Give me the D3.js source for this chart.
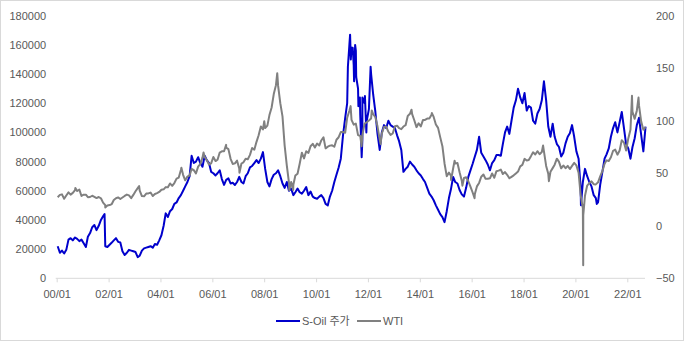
<!DOCTYPE html>
<html><head><meta charset="utf-8">
<script src="https://cdn.jsdelivr.net/npm/d3@7"></script>
<style>
body{margin:0;background:#fff}
svg{display:block}
text{font-family:"Liberation Sans","Noto Sans CJK KR",sans-serif;fill:#595959}
</style>
</head><body><svg id="c" width="684" height="341"></svg>
<script>
// ---- data ----
const soilName = "S-Oil 주가";
const wtiName = "WTI";
const leftTicks = [0,20000,40000,60000,80000,100000,120000,140000,160000,180000];
const rightTicks = [-50,0,50,100,150,200];
const xTickYears = [2000,2002,2004,2006,2008,2010,2012,2014,2016,2018,2020,2022];
const firstMonth = "2000-01", lastMonth = "2022-09";

// S-Oil share price, monthly (Jan 2000 .. Sep 2022)
const soilMonthly = [
 22000,17500,19000,17000,19500,26500,27500,26000,28000,27000,25500,26500,
 24000,21500,28500,31000,35000,36500,33000,36000,40000,42500,22000,21500,
 23000,24500,26000,27500,25000,24500,18500,16000,17500,19500,19000,18500,
 18000,14500,15500,19000,20500,21000,21500,22000,21000,23500,23000,26000,
 29500,36000,44500,42000,46000,47500,51000,52000,55000,57000,60000,63000,
 66000,70000,84000,79000,80000,83000,79000,76500,84000,81000,79000,73000,
 72000,70500,72000,74000,68000,64000,67500,68500,65000,65500,64000,66000,
 69500,66000,65000,70000,72000,76000,77000,79000,81000,79000,82000,86500,
 75000,66000,63000,68000,71000,72000,74000,70000,65000,62000,66000,60000,
 61500,57000,59000,61500,59000,58000,60000,62500,57000,59500,56000,55000,
 54500,56000,57000,55000,51000,50000,56000,60000,66000,71000,76000,82000,
 98000,110000,120000,160000,158000,146000,156000,130000,112000,95000,120000,108000,
 116000,140000,126000,114000,99000,88000,100000,105000,103000,108000,105000,104000,
 103000,98000,94000,88000,73000,75000,76500,80000,78000,76500,74000,72000,
 70500,68000,66000,62000,58000,56000,53500,50000,47000,44000,42000,38500,
 46000,55000,61000,69500,66000,65000,60500,57500,56000,62000,69500,74000,
 78500,83500,88000,97000,86000,83500,81000,78000,74000,79000,81000,84500,
 84500,84000,92000,100000,104000,99000,108000,117000,122000,130000,124000,120000,
 127000,115000,118000,117000,108000,106000,113000,116000,122000,135000,122000,104000,
 97000,106000,97000,92000,90000,83500,86000,92500,97000,99400,105000,97000,
 87000,82000,62000,66000,75000,70000,66000,63000,57000,55000,52000,64000,
 73000,82000,85000,89000,97000,103000,107000,100000,107000,114000,103000,92000,
 89000,82000,90000,96000,105000,110000,98500,87000,104000
];
// S-Oil extra daily extremes
const soilExtraDates = ["2001-11-05","2011-03-25","2011-04-25","2011-05-05","2011-06-01","2011-06-20","2011-07-05","2011-07-20","2011-08-20","2011-09-10","2011-10-05","2011-10-15","2011-11-20","2011-12-10","2012-02-08","2020-03-19","2020-10-28"];
const soilExtraValues = [44000,145000,167000,150000,158000,135000,160000,138000,118000,124000,83000,124000,125000,100000,145000,50000,51000];

// WTI, monthly (Jan 2000 .. Sep 2022)
const wtiMonthly = [
 27.2,29.4,29.9,25.7,28.8,31.8,29.7,31.3,33.9,33.1,34.4,28.4,
 29.6,29.6,27.2,27.4,28.6,27.6,26.4,27.4,26.2,22.0,19.6,19.3,
 19.7,20.7,24.5,26.2,27.0,25.5,26.9,28.4,29.7,28.9,26.3,29.4,
 32.9,35.9,33.5,28.3,28.1,30.7,30.8,31.6,28.3,30.3,31.1,32.2,
 34.3,34.7,36.8,36.7,40.3,38.0,40.7,44.9,45.9,53.1,48.5,43.3,
 46.8,48.0,54.3,53.0,49.8,56.3,58.7,64.9,65.6,62.4,58.3,59.4,
 65.5,61.6,62.9,69.7,70.9,70.9,74.4,73.0,63.8,58.9,59.4,62.0,
 54.5,59.3,60.4,63.9,63.4,67.5,74.1,72.4,79.9,86.2,94.6,91.7,
 93.0,95.4,105.4,112.6,125.4,133.9,133.4,116.7,104.1,76.6,57.3,41.1,
 41.7,39.1,47.9,49.6,59.0,69.6,64.2,71.0,69.4,75.7,78.0,74.5,
 78.3,76.4,81.2,84.3,73.7,75.3,76.3,76.6,75.2,81.9,84.3,89.2,
 89.2,88.6,102.9,109.5,100.9,96.3,97.3,86.3,85.5,86.3,97.2,98.6,
 100.3,102.2,106.2,103.3,94.7,82.3,87.9,94.1,94.5,89.5,86.5,87.9,
 94.8,95.3,92.9,92.0,94.5,95.8,104.6,106.6,106.3,100.5,93.9,97.6,
 94.6,100.8,100.8,102.1,102.2,105.8,103.6,96.5,93.2,84.4,75.8,59.3,
 47.2,50.6,47.8,54.5,59.3,59.8,50.9,42.9,45.5,46.2,42.4,37.2,
 31.7,30.3,37.5,40.8,46.7,48.8,44.7,44.7,45.2,49.8,45.7,52.0,
 52.5,53.5,49.3,51.1,48.5,45.2,46.6,48.0,49.8,51.6,56.6,57.9,
 63.7,62.2,62.7,66.3,70.0,67.9,71.0,68.1,70.2,70.8,57.0,49.5,
 51.4,54.9,58.2,63.9,60.8,54.7,57.4,54.8,57.0,54.0,57.0,59.9,
 57.5,50.5,29.2,16.6,28.6,38.3,40.7,42.3,39.6,39.4,41.4,47.0,
 52.0,59.0,62.3,61.7,65.2,71.4,72.5,67.7,71.6,81.5,79.2,71.7,
 83.2,91.6,108.5,101.8,109.6,114.6,99.4,91.5,94.0
];
// WTI extra daily extremes
const wtiExtraDates = ["2000-09-20","2001-11-15","2003-03-07","2004-10-22","2005-08-30","2006-07-14","2007-01-18","2008-01-02","2008-07-03","2008-12-19","2009-02-12","2011-05-02","2011-10-04","2012-02-24","2012-06-28","2013-09-06","2014-06-20","2015-03-17","2015-05-06","2015-08-24","2016-02-11","2018-10-03","2018-12-24","2020-04-20","2020-04-21","2022-03-08","2022-06-08"];
const wtiExtraValues = [36.0,17.5,37.8,55.2,69.8,77.0,50.5,99.6,145.3,33.9,34.0,113.9,75.7,109.8,77.7,110.5,107.3,43.5,62.0,38.2,26.2,76.4,42.5,-37.6,10.0,123.7,122.1];

// ---- build ----
const parseM = d3.timeParse("%Y-%m"), parseD = d3.timeParse("%Y-%m-%d");
const months = d3.timeMonth.range(parseM(firstMonth), d3.timeMonth.offset(parseM(lastMonth), 1)).map(d => d3.timeDay.offset(d, 14));
function series(monthly, exDates, exVals){
  const pts = months.map((d,i)=>({date:d, v:monthly[i]})).filter(p=>p.v!==undefined);
  exDates.forEach((s,i)=>pts.push({date:parseD(s), v:exVals[i]}));
  return pts.sort((a,b)=>a.date-b.date);
}
const soil = series(soilMonthly, soilExtraDates, soilExtraValues);
const wti = series(wtiMonthly, wtiExtraDates, wtiExtraValues);

const svg = d3.select("#c");
const W = 684, H = 341;
const pLeft = 56.7, pRight = 645, pTop = 15.7, pBottom = 278.3;

svg.append("rect").attr("x",0.5).attr("y",0.5).attr("width",W-1).attr("height",H-1)
  .attr("fill","#fff").attr("stroke","#d9d9d9");

const x = d3.scaleTime().domain([new Date(2000,0,1), new Date(2022,0,1)]).range([pLeft, 627.3]);
const yL = d3.scaleLinear().domain([0,180000]).range([pBottom, pTop]);
const yR = d3.scaleLinear().domain([-50,200]).range([pBottom, pTop]);

// bottom axis
const xAxis = d3.axisBottom(x).tickValues(xTickYears.map(y=>new Date(y,0,1)))
  .tickFormat(d3.timeFormat("%y/%m")).tickSize(4).tickPadding(8);
const gx = svg.append("g").attr("transform",`translate(0,${pBottom})`).call(xAxis);
gx.select(".domain").remove();
gx.selectAll(".tick line").attr("stroke","#d9d9d9");
gx.selectAll("text").attr("font-size",11).style("fill","#595959");
svg.append("line").attr("x1",pLeft-1).attr("x2",pRight).attr("y1",pBottom).attr("y2",pBottom)
  .attr("stroke","#d9d9d9").attr("stroke-width",1);

// left axis
const gl = svg.append("g").attr("transform",`translate(${pLeft},0)`)
  .call(d3.axisLeft(yL).tickValues(leftTicks).tickFormat(d3.format("d")).tickSize(0).tickPadding(10.5));
gl.select(".domain").remove();
gl.selectAll("text").attr("font-size",11).style("fill","#595959");

// right axis
const gr = svg.append("g").attr("transform",`translate(${pRight},0)`)
  .call(d3.axisRight(yR).tickValues(rightTicks).tickFormat(d3.format("d")).tickSize(0).tickPadding(11));
gr.select(".domain").remove();
gr.selectAll("text").attr("font-size",11).style("fill","#595959");

// lines
const lineL = d3.line().x(d=>x(d.date)).y(d=>yL(d.v));
const lineR = d3.line().x(d=>x(d.date)).y(d=>yR(d.v));
svg.append("path").datum(soil).attr("d",lineL).attr("fill","none")
  .attr("stroke","#0000cc").attr("stroke-width",2).attr("stroke-linejoin","round");
svg.append("path").datum(wti).attr("d",lineR).attr("fill","none")
  .attr("stroke","#808080").attr("stroke-width",2).attr("stroke-linejoin","round");

// legend
const ly = 321;
const lg = svg.append("g");
lg.append("line").attr("x1",276).attr("x2",300).attr("y1",ly).attr("y2",ly).attr("stroke","#0000cc").attr("stroke-width",2);
lg.append("text").attr("x",302).attr("y",ly).attr("dy","0.35em").attr("font-size",11).text(soilName);
lg.append("line").attr("x1",357).attr("x2",381).attr("y1",ly).attr("y2",ly).attr("stroke","#808080").attr("stroke-width",2);
lg.append("text").attr("x",383).attr("y",ly).attr("dy","0.35em").attr("font-size",11).text(wtiName);
</script>
</body></html>
